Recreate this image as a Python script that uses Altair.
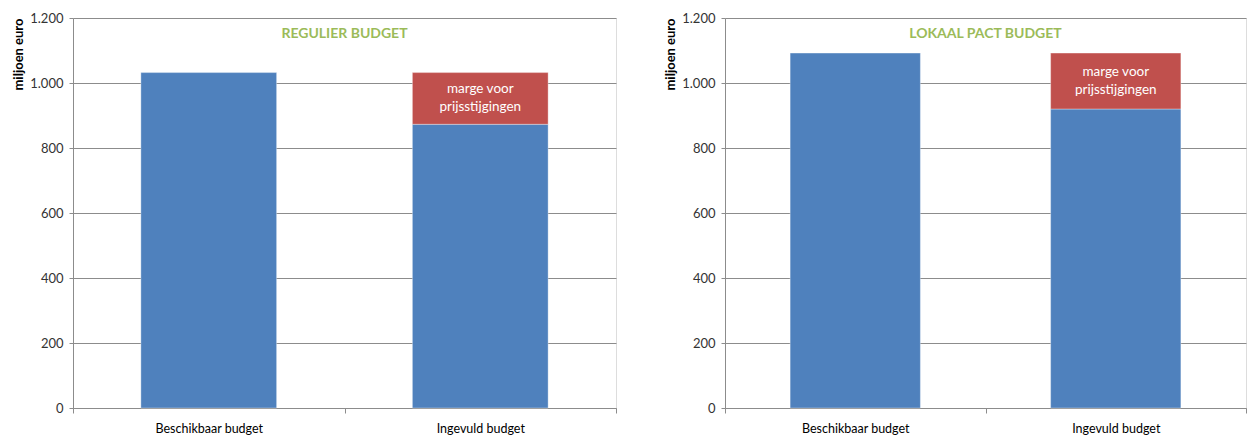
import altair as alt
import pandas as pd

categories = ["Beschikbaar budget", "Ingevuld budget"]
panel_titles = ["REGULIER BUDGET", "LOKAAL PACT BUDGET"]
beschikbaar = [1032, 1092]
ingevuld = [873, 920]
marge = [159, 172]
segments = ["budget", "marge voor prijsstijgingen"]
y_ticks = [0, 200, 400, 600, 800, 1000, 1200]

BLUE = "#4F81BD"
RED = "#C0504D"
GREEN = "#9BBB59"
GRID = "#8c8c8c"
FONT = "Lato"


def panel(i, width):
    df = pd.DataFrame({
        "cat": [categories[0], categories[1], categories[1]],
        "seg": [segments[0], segments[0], segments[1]],
        "start": [0, 0, ingevuld[i]],
        "end": [beschikbaar[i], ingevuld[i], ingevuld[i] + marge[i]],
    })
    x = alt.X("cat:N", sort=categories, title=None,
              scale=alt.Scale(paddingInner=0, paddingOuter=0),
              axis=alt.Axis(labelAngle=0, tickBand="extent", domainColor=GRID,
                            tickColor=GRID, tickSize=5, labelFontSize=12.5,
                            labelColor="#000", labelPadding=9, grid=False))
    y = alt.Y("start:Q", title="miljoen euro",
              scale=alt.Scale(domain=[0, 1200], nice=False),
              axis=alt.Axis(values=y_ticks, grid=True, gridColor=GRID,
                            domainColor=GRID, tickColor=GRID, tickSize=4,
                            labelFontSize=13, labelColor="#333",
                            labelPadding=6, titleFontSize=13,
                            titleFontWeight="bold", titleColor="#000",
                            titlePadding=4, titleAnchor="end",
                            labelExpr="replace(format(datum.value, ','), ',', '.')"))
    bars = alt.Chart(df).mark_bar(
        width=alt.RelativeBandSize(0.5),
        stroke="#ffffff", strokeOpacity=0.35, strokeWidth=1
    ).encode(
        x=x, y=y, y2="end:Q",
        color=alt.Color("seg:N", scale=alt.Scale(domain=segments, range=[BLUE, RED]),
                        legend=None),
    )
    lab_df = pd.DataFrame({
        "cat": [categories[1]],
        "mid": [ingevuld[i] + marge[i] / 2],
    })
    label = alt.Chart(lab_df).mark_text(
        color="white", fontSize=13.5, font=FONT, lineHeight=18, baseline="middle", dy=-9
    ).encode(
        x=alt.X("cat:N", sort=categories),
        y=alt.Y("mid:Q"),
        text=alt.value(["marge voor", "prijsstijgingen"]),
    )
    title_df = pd.DataFrame({"t": [panel_titles[i]]})
    title = alt.Chart(title_df).mark_text(
        color=GREEN, fontSize=14, font=FONT, fontWeight="bold", baseline="middle"
    ).encode(
        x=alt.value(width / 2), y=alt.value(16), text="t:N"
    )
    return alt.layer(bars, label, title).properties(width=width, height=390)


chart = alt.hconcat(panel(0, 543), panel(1, 521), spacing=47).properties(
    padding={"left": 4, "top": 3, "right": 0, "bottom": 0}
).configure_view(stroke=None).configure(font=FONT).configure_axis(labelFont=FONT, titleFont=FONT)

chart.save("out.html", embed_options={"renderer": "svg", "actions": False})
